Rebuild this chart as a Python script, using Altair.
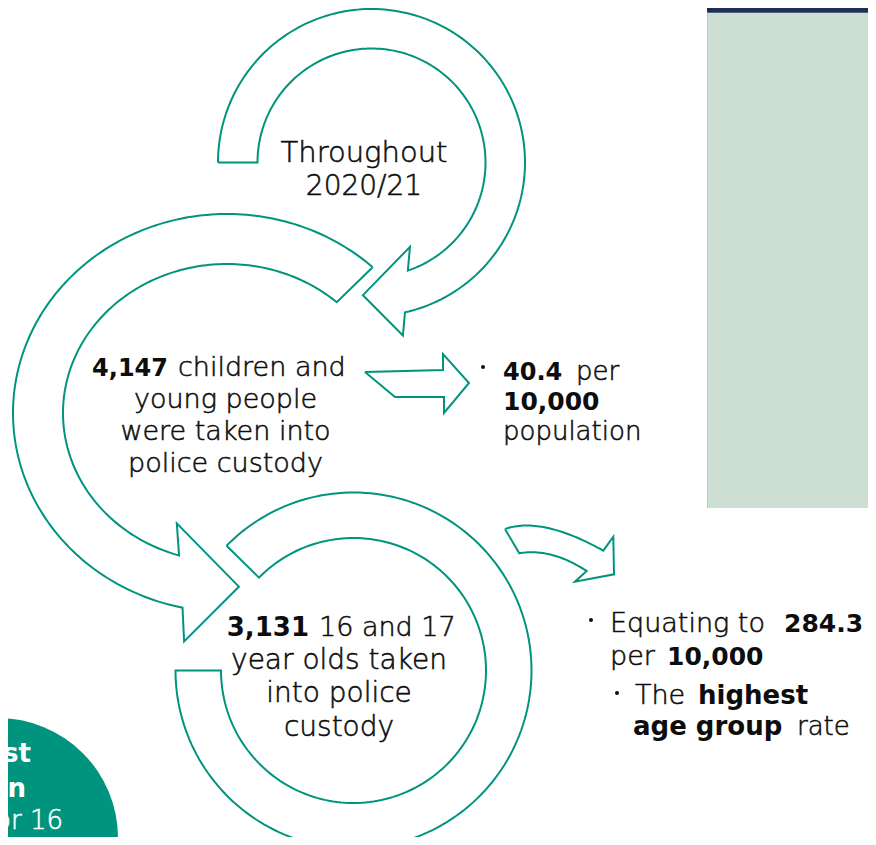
import altair as alt
import numpy as np
import pandas as pd

# ---------------- content (texts and figures of the infographic) ----------------
period_lines = ["Throughout", "2020/21"]
custody_total = "4,147"
custody_total_lines = ["children and", "young people", "were taken into", "police custody"]
rate_total = "40.4"
rate_total_words = ["per", "10,000", "population"]
custody_1617 = "3,131"
custody_1617_lines = ["16 and 17", "year olds taken", "into police", "custody"]
rate_1617_words = ["Equating to", "284.3", "per", "10,000"]
rate_1617_note = ["The", "highest", "age group", "rate"]
side_fragments = ["ost", "on", "or 16"]

# ---------------- styling ----------------
TEAL = "#00947f"
INK = "#0d0d0d"
PANEL = "#cddfd2"
NAVY = "#1c2f55"
FONT = "DejaVu Sans"
LIGHT = 300

# page coordinates of the drawing area (the page has an 8px margin)
X0, X1 = 8, 868
Y0, Y1 = 8, 837
W, H = X1 - X0, Y1 - Y0
xs = alt.Scale(domain=[X0, X1], nice=False, zero=False)
ys = alt.Scale(domain=[Y0, Y1], nice=False, zero=False, reverse=True)


def ell(cx, cy, rx, ry, t):
    t = np.deg2rad(np.asarray(t, dtype=float))
    return cx + rx * np.cos(t), cy + ry * np.sin(t)


def arc(cx, cy, rx, ry, t0, t1, n=180):
    x, y = ell(cx, cy, rx, ry, np.linspace(t0, t1, n))
    return list(zip(x, y))


def pt(cx, cy, rx, ry, t):
    x, y = ell(cx, cy, rx, ry, t)
    return (float(x), float(y))


def bezier(p0, c, p1, n=40):
    t = np.linspace(0, 1, n)[:, None]
    p0, c, p1 = map(np.array, (p0, c, p1))
    pts = (1 - t) ** 2 * p0 + 2 * (1 - t) * t * c + t ** 2 * p1
    return [tuple(p) for p in pts]


shapes = {}

# arrow 1: circular arrow around "Throughout 2020/21"
c1 = (371.5, 162.5)
R1, r1, m1 = 153.5, 114.0, 133.75
s = arc(*c1, R1, R1, 180, 437.4)
s += [pt(*c1, m1 + 42, m1 + 42, 439.7), pt(*c1, m1 - 0.8, m1 - 0.8, 453.7), pt(*c1, m1 - 41, m1 - 41, 425.5)]
s += arc(*c1, r1, r1, 431.4, 180)
shapes["a1"] = s + [s[0]]

# arrow 2: large arc from top-right, round the left, down to the 16-17 ring
c2 = (227.0, 413.0)
s = arc(*c2, 214, 199, -47.1, -258)
s += [pt(*c2, 247, 232, -260), pt(*c2, 189, 174, 86.4 - 360), pt(*c2, 134, 119, 112 - 360)]
s += arc(*c2, 164, 149, -253, -48)
shapes["a2"] = s + [s[0]]

# ring 3 around the 16 and 17 year olds
c3 = (353.5, 670.5)
s = arc(*c3, 178, 178, 224.5, 540) + arc(*c3, 132.5, 132.5, 540, 224.5)
shapes["a3"] = s + [s[0]]

# straight block arrow to the rate
s = [(365, 372), (443, 370), (443, 354), (469, 383), (444, 413), (444, 397), (395, 397)]
shapes["a4"] = s + [s[0]]

# curved block arrow to the age-group rate
s = bezier((505, 529), (541.8, 516.2), (603.3, 550.7))
s += [(613.3, 536.7), (614, 574.3), (575, 581.7)]
s += bezier((586.7, 571), (551, 547.8), (519.3, 553.3))
shapes["a5"] = s + [s[0]]

rows = []
for k, pts in shapes.items():
    for i, (x, y) in enumerate(pts):
        rows.append({"shape": k, "o": i, "x": x, "y": y})
shape_df = pd.DataFrame(rows)

outlines = alt.Chart(shape_df).mark_line(
    stroke=TEAL, strokeWidth=2, clip=True, strokeJoin="miter"
).encode(
    x=alt.X("x:Q", scale=xs, axis=None),
    y=alt.Y("y:Q", scale=ys, axis=None),
    order="o:Q",
    detail="shape:N",
)

# background panel on the right
rect_df = pd.DataFrame([
    {"x": 707, "x2": 880, "y": 12.7, "y2": 508, "fill": PANEL},
    {"x": 707, "x2": 880, "y": 0, "y2": 12.7, "fill": NAVY},
])
panels = alt.Chart(rect_df).mark_rect(clip=True).encode(
    x=alt.X("x:Q", scale=xs, axis=None), x2="x2:Q",
    y=alt.Y("y:Q", scale=ys, axis=None), y2="y2:Q",
    fill=alt.Fill("fill:N", scale=None),
)
edge = alt.Chart(pd.DataFrame({"x": [707.5], "y": [12.7], "y2": [508]})).mark_rule(
    color="#bccabf", strokeWidth=1, clip=True
).encode(x=alt.X("x:Q", scale=xs, axis=None), y=alt.Y("y:Q", scale=ys, axis=None), y2="y2:Q")

# teal disc at the bottom-left
disc = alt.Chart(pd.DataFrame({"x": [-2], "y": [838]})).mark_circle(
    size=240 * 240, color=TEAL, opacity=1, clip=True
).encode(x=alt.X("x:Q", scale=xs, axis=None), y=alt.Y("y:Q", scale=ys, axis=None))

# bullets
bul = alt.Chart(pd.DataFrame({"x": [483, 591, 617], "y": [367, 620, 693]})).mark_circle(
    size=16, color=INK, opacity=1
).encode(x=alt.X("x:Q", scale=xs, axis=None), y=alt.Y("y:Q", scale=ys, axis=None))

# ---------------- text items ----------------
T = []
def add(text, x, y, align, bold, size, color=INK):
    T.append({"label": text, "px": x, "py": y, "al": align, "bw": int(bold), "fs": size, "col": color})

add(period_lines[0], 364, 162, "center", False, 29)
add(period_lines[1], 364, 195, "center", False, 28)

add(custody_total, 168, 376, "right", True, 24)
add(custody_total_lines[0], 178, 376, "left", False, 27)
for line, y in zip(custody_total_lines[1:], [408, 440, 472]):
    add(line, 225.5, y, "center", False, 27)

add(rate_total, 503, 380, "left", True, 24)
add(rate_total_words[0], 576, 380, "left", False, 26)
add(rate_total_words[1], 503, 410, "left", True, 25)
add(rate_total_words[2], 503, 440, "left", False, 26)

add(custody_1617, 309, 636, "right", True, 26)
add(custody_1617_lines[0], 319, 636, "left", False, 27)
for line, y in zip(custody_1617_lines[1:], [669, 702, 736]):
    add(line, 339, y, "center", False, 28)

add(rate_1617_words[0], 610, 632, "left", False, 27)
add(rate_1617_words[1], 784, 632, "left", True, 25)
add(rate_1617_words[2], 610, 665, "left", False, 27)
add(rate_1617_words[3], 667, 665, "left", True, 25)
add(rate_1617_note[0], 635, 704, "left", False, 27)
add(rate_1617_note[1], 698, 704, "left", True, 26)
add(rate_1617_note[2], 633, 735, "left", True, 26)
add(rate_1617_note[3], 797, 735, "left", False, 26)

add(side_fragments[0], 31, 762, "right", True, 26, "#ffffff")
add(side_fragments[1], 26, 797, "right", True, 26, "#ffffff")
add(side_fragments[2], 63, 829, "right", False, 26, "#ffffff")

text_df = pd.DataFrame(T)
text_layers = []
for (al, bw, fs, col), sub in text_df.groupby(["al", "bw", "fs", "col"]):
    props = dict(
        align=al, baseline="alphabetic", font=FONT,
        fontWeight="bold" if bw else LIGHT,
        fontSize=int(fs), color=col,
    )
    if not bw:
        props.update(stroke=col, strokeWidth=0.55)
    text_layers.append(
        alt.Chart(sub[["label", "px", "py"]]).mark_text(**props).encode(
            x=alt.X("px:Q", scale=xs, axis=None),
            y=alt.Y("py:Q", scale=ys, axis=None),
            text="label:N",
        )
    )

chart = alt.layer(panels, edge, disc, outlines, bul, *text_layers).properties(
    width=W, height=H, padding=0,
    autosize=alt.AutoSizeParams(type="none"),
    background="white",
).configure_view(stroke=None)

chart.save("out.html", embed_options={"renderer": "svg", "actions": False})
